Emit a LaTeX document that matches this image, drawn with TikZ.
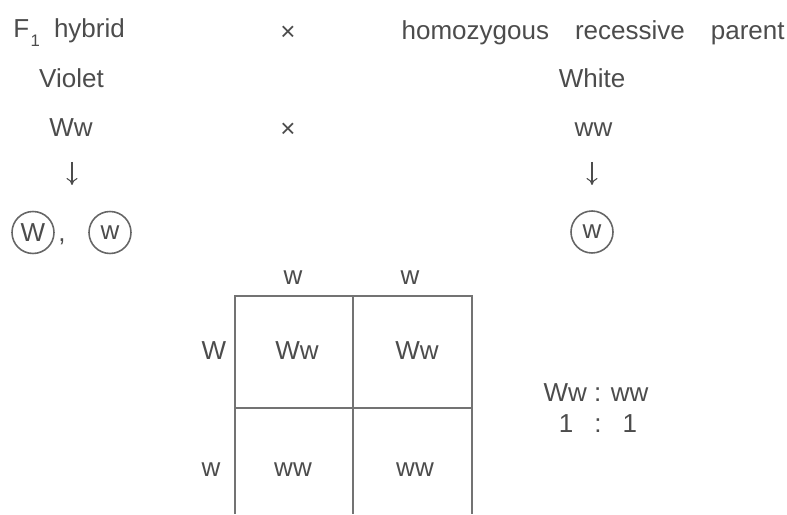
\documentclass[tikz,border=0pt]{standalone}
\usepackage{fontspec}
\setmainfont{Liberation Sans}
\usepackage{tikz}
\usetikzlibrary{arrows.meta}

\begin{document}
\begin{tikzpicture}[
		lbl/.style={text=black!70, inner sep=0pt, font=\fontsize{14.8}{18}\selectfont},
		gamete/.style={lbl, circle, draw=black!60, line width=0.9pt, minimum size=0.84cm},
		gridline/.style={draw=black!55, line width=1.1pt},
		down/.style={draw=black!70, line width=0.6pt, -{To[length=1.4mm,width=2.2mm]}}
	]
		\useasboundingbox (0,0) rectangle (15.74,10.28);
		
		\coordinate (A) at (4.7,4.36);
		\coordinate (B) at (7.06,4.36);
		\coordinate (C) at (9.44,4.36);
		\coordinate (D) at (4.7,2.12);
		\coordinate (E) at (9.44,2.12);
		\coordinate (A0) at (4.7,0);
		\coordinate (B0) at (7.06,0);
		\coordinate (C0) at (9.44,0);
		
		\node[lbl, anchor=base west] (F1) at (0.26,9.52) {F\hspace{0.03cm}\raisebox{-0.18cm}{\fontsize{9.5}{10}\selectfont 1}\hspace{0.28cm}hybrid};
		\node[lbl] (cross1) at (5.76,9.62) {×};
		\node[lbl, anchor=base east] (parent) at (15.7,9.49) {homozygous\hspace{0.52cm}recessive\hspace{0.52cm}parent};
		
		\node[lbl, anchor=base] (violet) at (1.43,8.52) {Violet};
		\node[lbl, anchor=base] (white) at (11.84,8.52) {White};
		
		\node[lbl, anchor=base] (Ww) at (1.42,7.54) {Ww};
		\node[lbl] (cross2) at (5.76,7.67) {×};
		\node[lbl, anchor=base] (ww) at (11.87,7.54) {ww};
		
		\coordinate (aL) at (1.44,7.04);
		\coordinate (bL) at (1.44,6.58);
		\coordinate (aR) at (11.84,7.04);
		\coordinate (bR) at (11.84,6.58);
		\draw[down] (aL) -- (bL);
		\draw[down] (aR) -- (bR);
		
		\node[gamete] (gW) at (0.66,5.63) {W};
		\node[lbl, anchor=base] (comma) at (1.24,5.44) {,};
		\node[gamete] (gw) at (2.2,5.63) {w};
		\node[gamete] (gw2) at (11.84,5.64) {w};
		
		\draw[gridline] (A0) -- (A) -- (C) -- (C0);
		\draw[gridline] (B) -- (B0);
		\draw[gridline] (D) -- (E);
		
		\node[lbl, anchor=base] (col1) at (5.86,4.58) {w};
		\node[lbl, anchor=base] (col2) at (8.2,4.58) {w};
		\node[lbl, anchor=base] (row1) at (4.28,3.08) {W};
		\node[lbl, anchor=base] (row2) at (4.22,0.76) {w};
		
		\node[lbl, anchor=base] (c11) at (5.94,3.08) {Ww};
		\node[lbl, anchor=base] (c12) at (8.34,3.08) {Ww};
		\node[lbl, anchor=base] (c21) at (5.86,0.75) {ww};
		\node[lbl, anchor=base] (c22) at (8.3,0.75) {ww};
		
		\node[lbl, anchor=base] (ratio) at (11.92,2.24) {Ww : ww};
		\node[lbl, anchor=base] (count) at (11.96,1.62) {1\hspace{0.42cm}:\hspace{0.42cm}1};
	\end{tikzpicture}
\end{document}
